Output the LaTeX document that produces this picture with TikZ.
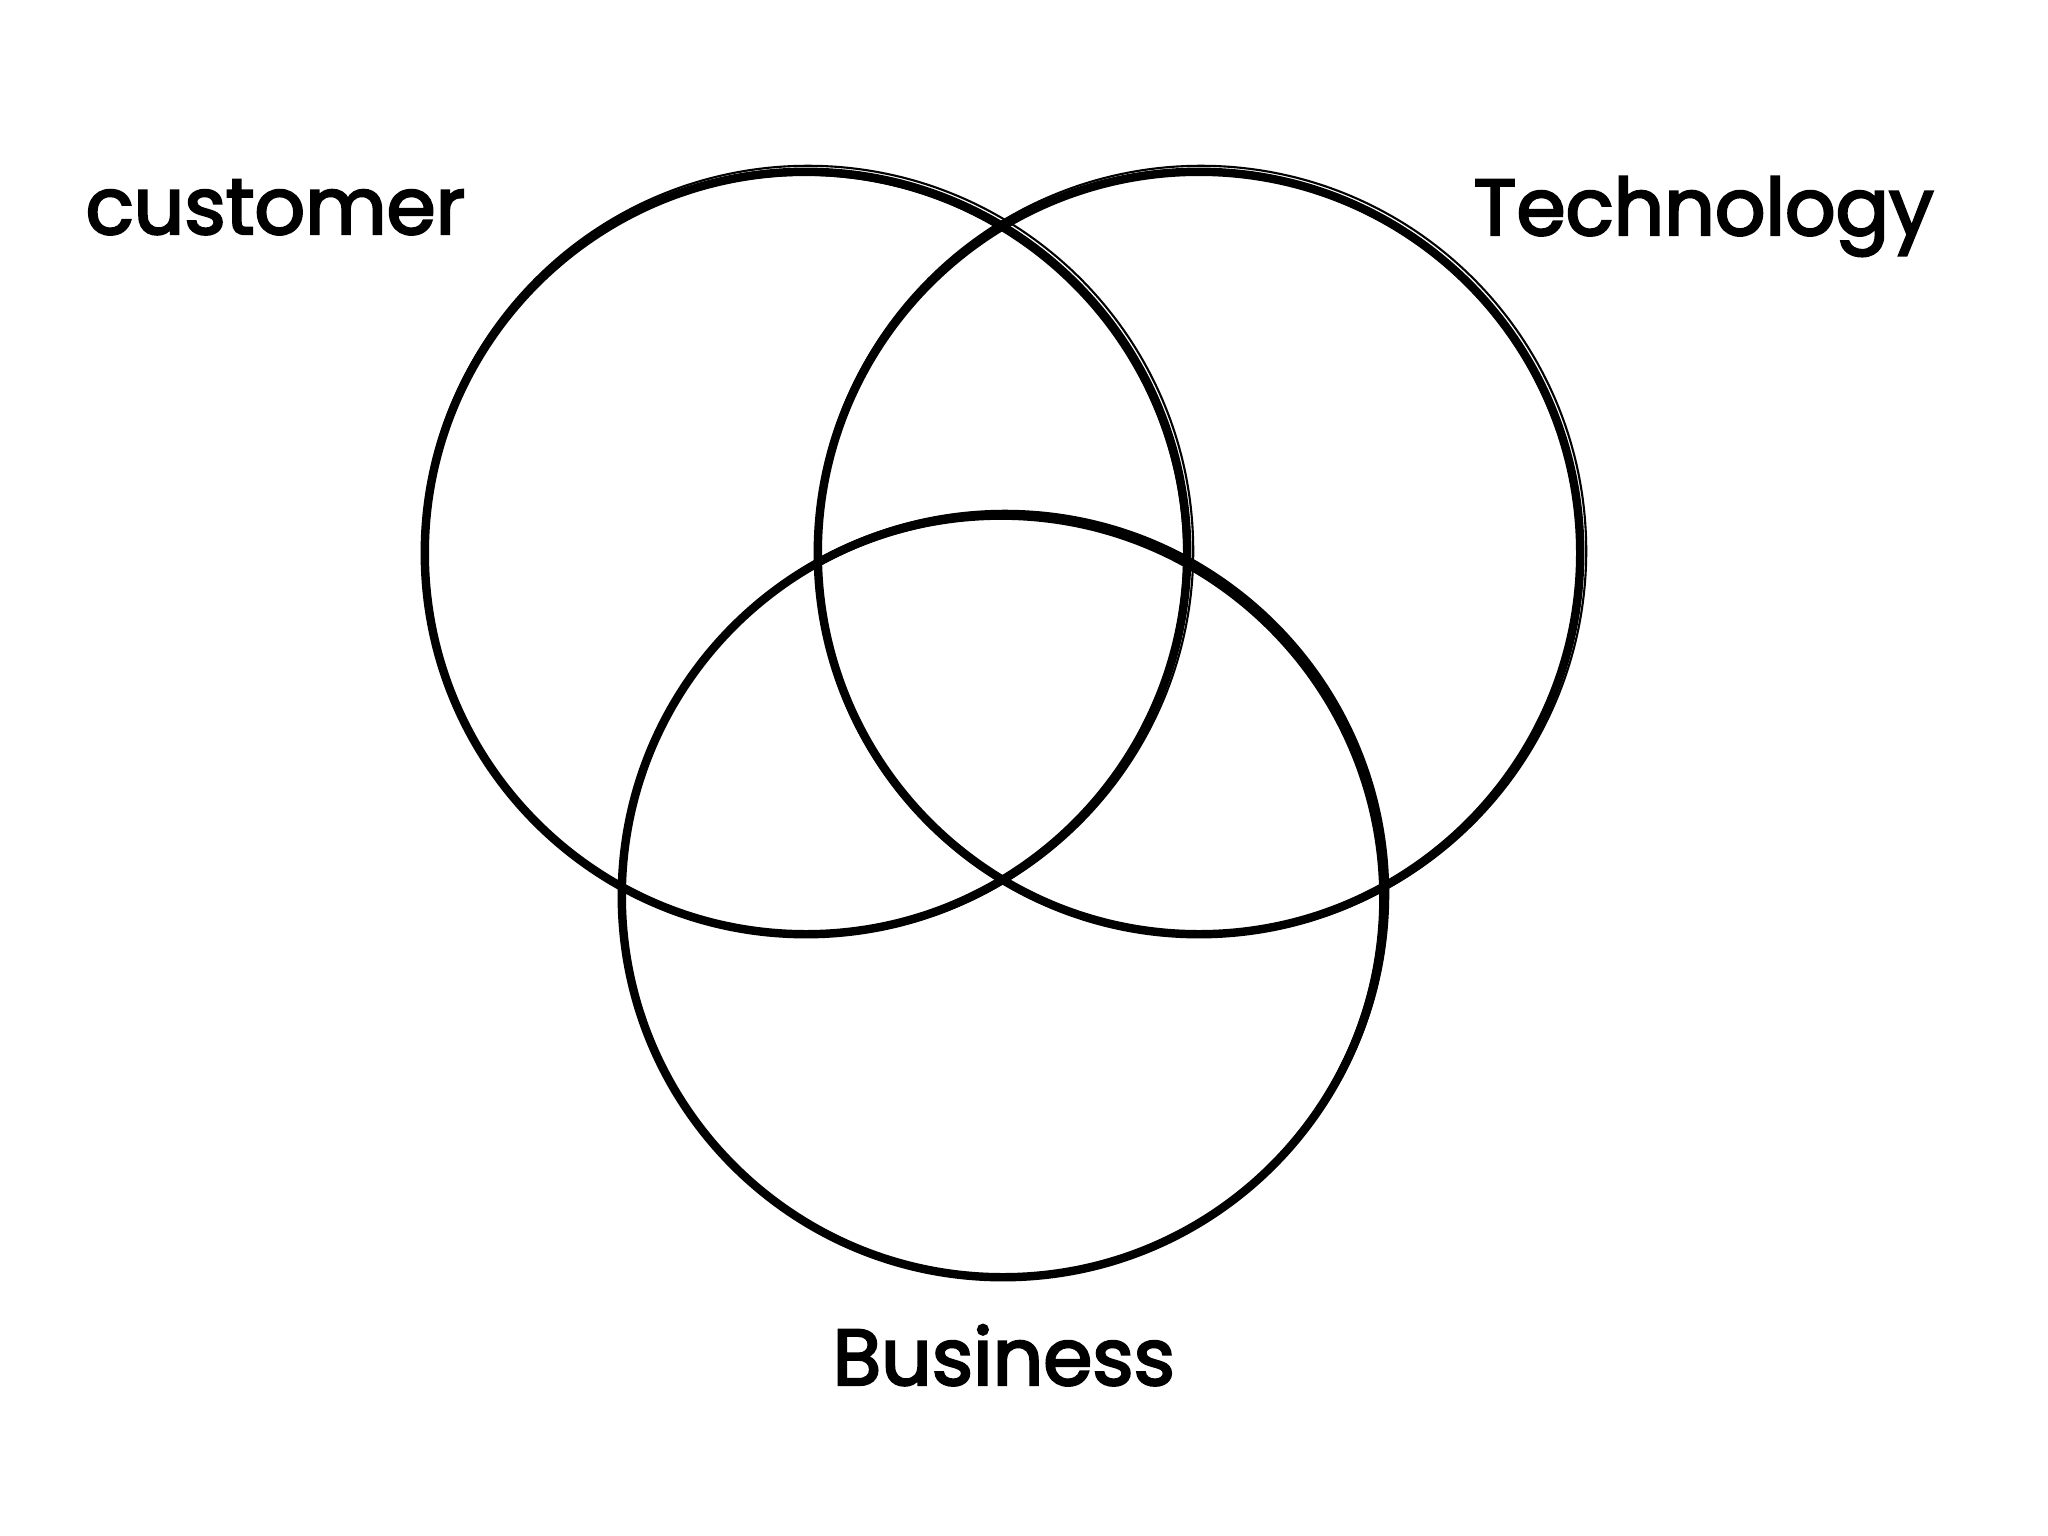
\documentclass[tikz,border=0pt]{standalone}
\usepackage{fontspec}
\setmainfont{Poppins}
\newfontfamily\handfont{Poppins}[FakeBold=3]
\usepackage{tikz}
\usetikzlibrary{shapes}

\begin{document}
\begin{tikzpicture}[x = 0.01cm, y = -0.01cm,
    ring/.style = {draw, circle, line width = 2.4pt, minimum size = 7.62cm, inner sep = 0pt},
    sketch/.style = {line width = 0.6pt},
    word/.style = {font = \fontsize{22.5}{26}\handfont, inner sep = 0pt, anchor = base west}]
\useasboundingbox [fill = white] (0, 0) rectangle (2048, 1536);

\node [ring] (cust) at (806, 553) {};
\node [ring] (tech) at (1199, 553) {};
\node [ring] (busi) at (1003, 896) {};
\draw [sketch] (808, 551) circle (3.85cm);
\draw [sketch] (1197, 555) circle (3.81cm);
\draw [sketch] (1005, 894) circle (3.83cm);
\draw [sketch] (804, 555) circle (3.80cm);
\draw [sketch] (1201, 551) circle (3.85cm);
\draw [sketch] (1001, 898) circle (3.79cm);

\node [word] (custlbl) at (85, 234) {customer};
\node [word] (techlbl) at (1473, 235) {Technology};
\node [word] (busilbl) at (832, 1385) {Business};
\end{tikzpicture}
\end{document}
